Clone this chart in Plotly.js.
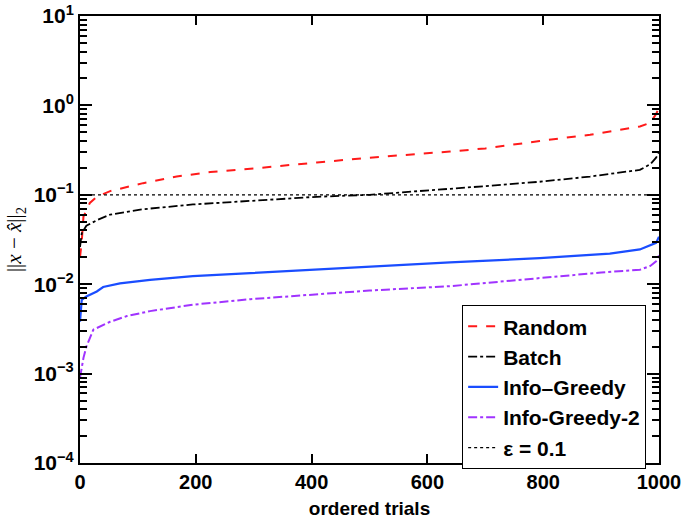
<!DOCTYPE html>
<html>
<head>
<meta charset="utf-8">
<script src="https://cdn.plot.ly/plotly-3.0.1.min.js"></script>
</head>
<body style="margin:0">
<div id="chart"></div>
<script>
// ---- data ----
const seriesNames = ["Random", "Batch", "Info\u2013Greedy", "Info-Greedy-2", "\u03b5 = 0.1"];

const randomX = [0, 3, 6, 17, 29, 52, 109, 167, 225, 311, 409, 500, 639, 700, 794, 881, 967, 985, 995, 1000];
const randomY = [0.02, 0.03, 0.057, 0.081, 0.095, 0.11, 0.135, 0.16, 0.18, 0.2, 0.23, 0.26, 0.305, 0.33, 0.40, 0.47, 0.58, 0.64, 0.8, 0.95];

const batchX = [0, 3, 11, 29, 52, 109, 195, 311, 409, 500, 622, 700, 794, 881, 967, 985, 995, 1000];
const batchY = [0.026, 0.037, 0.045, 0.052, 0.06, 0.069, 0.078, 0.086, 0.095, 0.1, 0.114, 0.125, 0.14, 0.16, 0.19, 0.22, 0.26, 0.3];

const greedyX = [0, 3, 11, 29, 40, 69, 121, 195, 294, 500, 639, 794, 915, 967, 985, 995, 1000];
const greedyY = [0.0038, 0.0067, 0.0073, 0.0083, 0.0093, 0.0102, 0.0112, 0.0123, 0.0133, 0.0158, 0.0175, 0.0196, 0.022, 0.0245, 0.027, 0.029, 0.034];

const greedy2X = [0, 6, 11, 23, 52, 81, 121, 195, 294, 500, 639, 794, 900, 967, 985, 995, 1000];
const greedy2Y = [0.0009, 0.0015, 0.002, 0.0031, 0.0038, 0.0044, 0.005, 0.0059, 0.0068, 0.0085, 0.0095, 0.0118, 0.0135, 0.0145, 0.016, 0.018, 0.021];

const epsX = [0, 1000];
const epsY = [0.1, 0.1];

const xTicks = [0, 200, 400, 600, 800, 1000];
const yMajor = [1e-4, 1e-3, 1e-2, 1e-1, 1e0, 1e1];
const yMajorText = ["10<sup>\u22124</sup>", "10<sup>\u22123</sup>", "10<sup>\u22122</sup>", "10<sup>\u22121</sup>", "10<sup>0</sup>", "10<sup>1</sup>"];

// minor tick positions (2..9 in each decade)
const yMinor = [];
for (let d = -4; d < 1; d++) for (let m = 2; m <= 9; m++) yMinor.push(m * Math.pow(10, d));

const bold = s => "<b>" + s + "</b>";

// ---- chart ----
const font = "Liberation Sans, Arial, Helvetica, sans-serif";
const traces = [
  {x: randomX, y: randomY, name: bold(seriesNames[0]), mode: "lines",
   line: {color: "#ff1a1a", width: 2, dash: "dash"}},
  {x: batchX, y: batchY, name: bold(seriesNames[1]), mode: "lines",
   line: {color: "#000000", width: 1.8, dash: "dashdot"}},
  {x: greedyX, y: greedyY, name: bold(seriesNames[2]), mode: "lines",
   line: {color: "#1a4dff", width: 2.2}},
  {x: greedy2X, y: greedy2Y, name: bold(seriesNames[3]), mode: "lines",
   line: {color: "#a033ff", width: 2, dash: "dashdot"}},
  {x: epsX, y: epsY, name: bold(seriesNames[4]), mode: "lines",
   line: {color: "#000000", width: 1.3, dash: "dot"}},
  // invisible helper so the minor-tick overlay axis is drawn
  {x: epsX, y: epsY, yaxis: "y2", mode: "lines", showlegend: false, hoverinfo: "skip",
   line: {color: "rgba(0,0,0,0)", width: 0}}
];

const layout = {
  width: 685, height: 519,
  margin: {l: 80, r: 26, t: 16, b: 56},
  showlegend: true,
  legend: {
    x: 0.66, y: 0.353, xanchor: "left", yanchor: "top",
    bgcolor: "white", bordercolor: "black", borderwidth: 1,
    font: {family: font, size: 21, color: "black"},
    itemwidth: 30
  },
  xaxis: {
    range: [0, 1000], tickvals: xTicks, ticktext: xTicks.map(v => bold(String(v))),
    ticks: "inside", ticklen: 9, tickwidth: 2, tickcolor: "rgb(0,0,0)",
    showline: true, linecolor: "rgb(0,0,0)", linewidth: 2, mirror: "ticks",
    showgrid: false,
    tickfont: {family: font, size: 20, color: "black"},
    title: {text: bold("ordered trials"), font: {family: font, size: 19, color: "black"}, standoff: 14}
  },
  yaxis: {
    type: "log", range: [-4, 1], tickvals: yMajor, ticktext: yMajorText.map(bold),
    ticks: "inside", ticklen: 12, tickwidth: 2, tickcolor: "rgb(0,0,0)",
    showline: true, linecolor: "rgb(0,0,0)", linewidth: 2, mirror: "ticks",
    showgrid: false,
    tickfont: {family: font, size: 21, color: "black"},
    title: {text: "||<i>x</i> \u2212 <i>x\u0302</i>||<sub>2</sub>", font: {family: "Liberation Serif, DejaVu Serif, serif", size: 21, color: "black"}, standoff: 6}
  },
  yaxis2: {
    type: "log", range: [-4, 1], overlaying: "y", anchor: "x", side: "left",
    tickvals: yMinor, showticklabels: false,
    ticks: "inside", ticklen: 7, tickwidth: 2, tickcolor: "rgb(0,0,0)",
    showline: false, mirror: "ticks", showgrid: false
  }
};

Plotly.newPlot("chart", traces, layout, {displayModeBar: false});
</script>
</body>
</html>
